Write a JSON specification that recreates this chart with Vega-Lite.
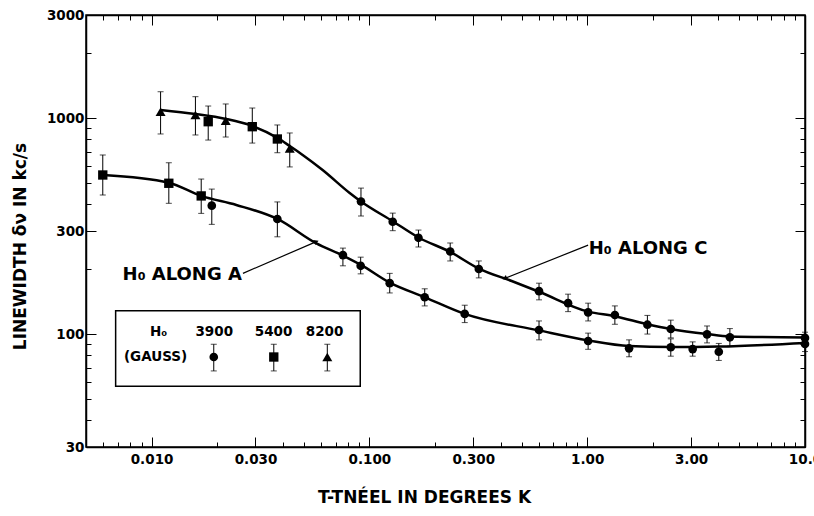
{
  "$schema": "https://vega.github.io/schema/vega-lite/v6.json",
  "width": 719,
  "height": 432,
  "autosize": {"type": "none"},
  "padding": {"left": 86, "top": 15, "right": 9, "bottom": 69},
  "background": "white",
  "config": {
    "view": {"stroke": "black", "strokeWidth": 1.5},
    "font": "DejaVu Sans",
    "axis": {
      "grid": false,
      "domainColor": "black",
      "domainWidth": 1.5,
      "tickColor": "black",
      "tickWidth": 1,
      "labelColor": "black",
      "labelFont": "DejaVu Sans",
      "labelFontWeight": "bold",
      "labelFontSize": 13.5,
      "labelOverlap": false,
      "labelFlush": false,
      "titleFont": "DejaVu Sans",
      "titleFontWeight": "bold",
      "titleFontSize": 17,
      "titleColor": "black"
    }
  },
  "datasets": {
    "curves": [
      {"series": "C", "x": 0.011, "y": 1090},
      {"series": "C", "x": 0.0159, "y": 1044},
      {"series": "C", "x": 0.022, "y": 990},
      {"series": "C", "x": 0.029, "y": 919},
      {"series": "C", "x": 0.0378, "y": 809},
      {"series": "C", "x": 0.0431, "y": 742},
      {"series": "C", "x": 0.0494, "y": 675},
      {"series": "C", "x": 0.061, "y": 575},
      {"series": "C", "x": 0.0812, "y": 450},
      {"series": "C", "x": 0.0915, "y": 411},
      {"series": "C", "x": 0.128, "y": 333},
      {"series": "C", "x": 0.168, "y": 280},
      {"series": "C", "x": 0.235, "y": 240},
      {"series": "C", "x": 0.318, "y": 201},
      {"series": "C", "x": 0.45, "y": 176},
      {"series": "C", "x": 0.601, "y": 157},
      {"series": "C", "x": 1.01, "y": 127},
      {"series": "C", "x": 1.34, "y": 121},
      {"series": "C", "x": 1.89, "y": 111},
      {"series": "C", "x": 2.42, "y": 105.5},
      {"series": "C", "x": 3.55, "y": 100},
      {"series": "C", "x": 4.52, "y": 97.5},
      {"series": "C", "x": 10, "y": 96.5},
      {"series": "A", "x": 0.006, "y": 545},
      {"series": "A", "x": 0.012, "y": 502},
      {"series": "A", "x": 0.0169, "y": 436},
      {"series": "A", "x": 0.0245, "y": 396},
      {"series": "A", "x": 0.0378, "y": 341},
      {"series": "A", "x": 0.0571, "y": 263},
      {"series": "A", "x": 0.0756, "y": 231},
      {"series": "A", "x": 0.0915, "y": 209},
      {"series": "A", "x": 0.124, "y": 173},
      {"series": "A", "x": 0.18, "y": 148},
      {"series": "A", "x": 0.274, "y": 124},
      {"series": "A", "x": 0.601, "y": 104},
      {"series": "A", "x": 1.01, "y": 93.5},
      {"series": "A", "x": 1.56, "y": 88},
      {"series": "A", "x": 2.42, "y": 87},
      {"series": "A", "x": 4.02, "y": 87.5},
      {"series": "A", "x": 10, "y": 91}
    ],
    "pts": [
      {"series": "C", "f": "8200", "x": 0.011, "y": 1070, "lo": 844, "hi": 1324},
      {"series": "C", "f": "8200", "x": 0.0159, "y": 1033, "lo": 835, "hi": 1256},
      {"series": "C", "f": "5400", "x": 0.0182, "y": 962, "lo": 791, "hi": 1137},
      {"series": "C", "f": "8200", "x": 0.0219, "y": 972, "lo": 817, "hi": 1162},
      {"series": "C", "f": "5400", "x": 0.029, "y": 912, "lo": 766, "hi": 1113},
      {"series": "C", "f": "5400", "x": 0.0378, "y": 800, "lo": 691, "hi": 929},
      {"series": "C", "f": "8200", "x": 0.0431, "y": 724, "lo": 594, "hi": 853},
      {"series": "C", "f": "3900", "x": 0.0915, "y": 411, "lo": 352, "hi": 474},
      {"series": "C", "f": "3900", "x": 0.128, "y": 331, "lo": 301, "hi": 363},
      {"series": "C", "f": "3900", "x": 0.168, "y": 279, "lo": 253, "hi": 303},
      {"series": "C", "f": "3900", "x": 0.235, "y": 241, "lo": 218, "hi": 264},
      {"series": "C", "f": "3900", "x": 0.318, "y": 200, "lo": 182, "hi": 218},
      {"series": "C", "f": "3900", "x": 0.601, "y": 158, "lo": 144, "hi": 172},
      {"series": "C", "f": "3900", "x": 0.817, "y": 139, "lo": 127, "hi": 153},
      {"series": "C", "f": "3900", "x": 1.01, "y": 126, "lo": 115, "hi": 139},
      {"series": "C", "f": "3900", "x": 1.34, "y": 122.5, "lo": 111, "hi": 135},
      {"series": "C", "f": "3900", "x": 1.89, "y": 110.5, "lo": 100, "hi": 122},
      {"series": "C", "f": "3900", "x": 2.42, "y": 105.5, "lo": 96, "hi": 116},
      {"series": "C", "f": "3900", "x": 3.55, "y": 99.7, "lo": 91, "hi": 109},
      {"series": "C", "f": "3900", "x": 4.52, "y": 96.6, "lo": 88, "hi": 106},
      {"series": "C", "f": "3900", "x": 10, "y": 96, "lo": 91, "hi": 102},
      {"series": "A", "f": "5400", "x": 0.00597, "y": 545, "lo": 440, "hi": 675},
      {"series": "A", "f": "5400", "x": 0.012, "y": 499, "lo": 403, "hi": 621},
      {"series": "A", "f": "5400", "x": 0.0169, "y": 436, "lo": 362, "hi": 522},
      {"series": "A", "f": "3900", "x": 0.0189, "y": 393, "lo": 322, "hi": 469},
      {"series": "A", "f": "3900", "x": 0.0378, "y": 341, "lo": 282, "hi": 409},
      {"series": "A", "f": "3900", "x": 0.0756, "y": 232, "lo": 207, "hi": 250},
      {"series": "A", "f": "3900", "x": 0.0912, "y": 207, "lo": 190, "hi": 227},
      {"series": "A", "f": "3900", "x": 0.124, "y": 172, "lo": 155, "hi": 191},
      {"series": "A", "f": "3900", "x": 0.1795, "y": 148, "lo": 135, "hi": 162},
      {"series": "A", "f": "3900", "x": 0.274, "y": 124, "lo": 113, "hi": 136},
      {"series": "A", "f": "3900", "x": 0.601, "y": 104.4, "lo": 94, "hi": 115},
      {"series": "A", "f": "3900", "x": 1.01, "y": 92.9, "lo": 85, "hi": 101},
      {"series": "A", "f": "3900", "x": 1.557, "y": 85.9, "lo": 78.5, "hi": 94},
      {"series": "A", "f": "3900", "x": 2.42, "y": 86.9, "lo": 79, "hi": 95},
      {"series": "A", "f": "3900", "x": 3.05, "y": 85.2, "lo": 79, "hi": 92},
      {"series": "A", "f": "3900", "x": 4.02, "y": 82.8, "lo": 75.5, "hi": 90.5},
      {"series": "A", "f": "3900", "x": 10, "y": 90, "lo": 83, "hi": 97}
    ],
    "legbox": [{"x": 0.00684, "x2": 0.0908, "y": 57.4, "y2": 128.3}],
    "legsym": [
      {"f": "3900", "x": 0.0193, "y": 78.3, "lo": 67.5, "hi": 89.7},
      {"f": "5400", "x": 0.0364, "y": 78.3, "lo": 67.5, "hi": 89.7},
      {"f": "8200", "x": 0.0641, "y": 78.3, "lo": 67.5, "hi": 89.7}
    ],
    "legtxt": [
      {"x": 0.01077, "y": 102.5, "t": "H₀"},
      {"x": 0.0194, "y": 102.5, "t": "3900"},
      {"x": 0.0363, "y": 102.5, "t": "5400"},
      {"x": 0.0623, "y": 102.5, "t": "8200"},
      {"x": 0.01043, "y": 78.3, "t": "(GAUSS)"}
    ],
    "notes": [
      {"x": 0.00736, "y": 187.7, "t": "H₀ ALONG  A"},
      {"x": 1.017, "y": 247.7, "t": "H₀ ALONG  C"}
    ],
    "leaders": [
      {"k": "A", "x": 0.02627, "y": 191, "x2": 0.0571, "y2": 268},
      {"k": "C", "x": 1.01, "y": 258, "x2": 0.418, "y2": 181}
    ]
  },
  "layer": [
    {
      "data": {"name": "curves"},
      "mark": {"type": "line", "interpolate": "monotone", "color": "black", "strokeWidth": 2.5},
      "encoding": {
        "x": {
          "field": "x", "type": "quantitative",
          "scale": {"type": "log", "domain": [0.005, 10], "nice": false},
          "axis": {
            "orient": "bottom",
            "values": [0.006, 0.007, 0.008, 0.009, 0.01, 0.02, 0.03, 0.04, 0.05, 0.06, 0.07, 0.08, 0.09, 0.1, 0.2, 0.3, 0.4, 0.5, 0.6, 0.7, 0.8, 0.9, 1, 2, 3, 4, 5, 6, 7, 8, 9, 10],
            "labelExpr": "datum.value==0.01?'0.010':datum.value==0.03?'0.030':datum.value==0.1?'0.100':datum.value==0.3?'0.300':datum.value==1?'1.00':datum.value==3?'3.00':datum.value==10?'10.0':''",
            "tickSize": {"condition": {"test": "indexof([0.01,0.03,0.1,0.3,1,3,10], datum.value) >= 0", "value": -10}, "value": -5},
            "labelPadding": 15,
            "title": "T-TNÉEL  IN  DEGREES  K",
            "titleX": 338,
            "titleY": 50,
            "titleBaseline": "middle",
            "titleAlign": "center"
          }
        },
        "y": {
          "field": "y", "type": "quantitative",
          "scale": {"type": "log", "domain": [30, 3000], "nice": false},
          "axis": {
            "orient": "left",
            "values": [30, 40, 50, 60, 70, 80, 90, 100, 200, 300, 400, 500, 600, 700, 800, 900, 1000, 2000, 3000],
            "labelExpr": "indexof([30,100,300,1000,3000], datum.value) >= 0 ? datum.label : ''",
            "format": "d",
            "tickSize": {"condition": {"test": "indexof([30,100,300,1000,3000], datum.value) >= 0", "value": -10}, "value": -5},
            "labelPadding": 12,
            "title": "LINEWIDTH  δν  IN  kc/s",
            "titleX": -66,
            "titleY": 231,
            "titleAngle": -90,
            "titleBaseline": "middle",
            "titleAlign": "center"
          }
        },
        "detail": {"field": "series"}
      }
    },
    {
      "data": {"name": "pts"},
      "mark": {"type": "point", "filled": true, "color": "black", "opacity": 1},
      "encoding": {
        "x": {
          "field": "x", "type": "quantitative",
          "scale": {"type": "log", "domain": [0.005, 10], "nice": false},
          "axis": {
            "orient": "top",
            "values": [0.006, 0.007, 0.008, 0.009, 0.01, 0.02, 0.03, 0.04, 0.05, 0.06, 0.07, 0.08, 0.09, 0.1, 0.2, 0.3, 0.4, 0.5, 0.6, 0.7, 0.8, 0.9, 1, 2, 3, 4, 5, 6, 7, 8, 9, 10],
            "labels": false,
            "title": null,
            "tickSize": {"condition": {"test": "indexof([0.01,0.03,0.1,0.3,1,3,10], datum.value) >= 0", "value": -10}, "value": -5}
          }
        },
        "y": {
          "field": "y", "type": "quantitative",
          "scale": {"type": "log", "domain": [30, 3000], "nice": false},
          "axis": {
            "orient": "right",
            "values": [30, 40, 50, 60, 70, 80, 90, 100, 200, 300, 400, 500, 600, 700, 800, 900, 1000, 2000, 3000],
            "labels": false,
            "title": null,
            "tickSize": {"condition": {"test": "indexof([30,100,300,1000,3000], datum.value) >= 0", "value": -10}, "value": -5}
          }
        },
        "shape": {"field": "f", "type": "nominal", "scale": {"domain": ["3900", "5400", "8200"], "range": ["circle", "square", "triangle-up"]}, "legend": null},
        "size": {"field": "f", "type": "ordinal", "scale": {"domain": ["3900", "5400", "8200"], "range": [75, 100, 90]}, "legend": null}
      }
    },
    {
      "data": {"name": "pts"},
      "mark": {"type": "errorbar", "ticks": {"size": 6, "color": "black"}, "thickness": 1, "color": "black"},
      "encoding": {
        "x": {"field": "x", "type": "quantitative", "scale": {"type": "log", "domain": [0.005, 10], "nice": false}, "axis": null},
        "y": {"field": "lo", "type": "quantitative", "scale": {"type": "log", "domain": [30, 3000], "nice": false}, "axis": null},
        "y2": {"field": "hi"}
      }
    },
    {
      "data": {"name": "legbox"},
      "mark": {"type": "rect", "fill": "white", "stroke": "black", "strokeWidth": 1.5},
      "encoding": {
        "x": {"field": "x", "type": "quantitative", "axis": null},
        "x2": {"field": "x2"},
        "y": {"field": "y", "type": "quantitative", "axis": null},
        "y2": {"field": "y2"}
      }
    },
    {
      "data": {"name": "legsym"},
      "mark": {"type": "errorbar", "ticks": {"size": 6, "color": "black"}, "thickness": 1, "color": "black"},
      "encoding": {
        "x": {"field": "x", "type": "quantitative", "axis": null},
        "y": {"field": "lo", "type": "quantitative", "axis": null},
        "y2": {"field": "hi"}
      }
    },
    {
      "data": {"name": "legsym"},
      "mark": {"type": "point", "filled": true, "color": "black", "opacity": 1},
      "encoding": {
        "x": {"field": "x", "type": "quantitative", "axis": null},
        "y": {"field": "y", "type": "quantitative", "axis": null},
        "shape": {"field": "f", "type": "nominal", "legend": null},
        "size": {"field": "f", "type": "ordinal", "legend": null}
      }
    },
    {
      "data": {"name": "legtxt"},
      "mark": {"type": "text", "font": "DejaVu Sans", "fontWeight": "bold", "fontSize": 13.5, "align": "center", "baseline": "middle", "color": "black"},
      "encoding": {
        "x": {"field": "x", "type": "quantitative", "axis": null},
        "y": {"field": "y", "type": "quantitative", "axis": null},
        "text": {"field": "t"}
      }
    },
    {
      "data": {"name": "notes"},
      "mark": {"type": "text", "font": "DejaVu Sans", "fontWeight": "bold", "fontSize": 18, "align": "left", "baseline": "middle", "color": "black"},
      "encoding": {
        "x": {"field": "x", "type": "quantitative", "axis": null},
        "y": {"field": "y", "type": "quantitative", "axis": null},
        "text": {"field": "t"}
      }
    },
    {
      "data": {"name": "leaders"},
      "mark": {"type": "rule", "color": "black", "strokeWidth": 1.2},
      "encoding": {
        "x": {"field": "x", "type": "quantitative", "axis": null},
        "x2": {"field": "x2"},
        "y": {"field": "y", "type": "quantitative", "axis": null},
        "y2": {"field": "y2"}
      }
    },
    {
      "data": {"name": "leaders"},
      "transform": [{"filter": "datum.k == 'A'"}],
      "mark": {"type": "point", "shape": "triangle-up", "filled": true, "color": "black", "opacity": 1, "size": 30, "angle": 67},
      "encoding": {
        "x": {"field": "x2", "type": "quantitative", "axis": null},
        "y": {"field": "y2", "type": "quantitative", "axis": null}
      }
    },
    {
      "data": {"name": "leaders"},
      "transform": [{"filter": "datum.k == 'C'"}],
      "mark": {"type": "point", "shape": "triangle-up", "filled": true, "color": "black", "opacity": 1, "size": 30, "angle": 248},
      "encoding": {
        "x": {"field": "x2", "type": "quantitative", "axis": null},
        "y": {"field": "y2", "type": "quantitative", "axis": null}
      }
    }
  ],
  "resolve": {"axis": {"x": "independent", "y": "independent"}}
}
